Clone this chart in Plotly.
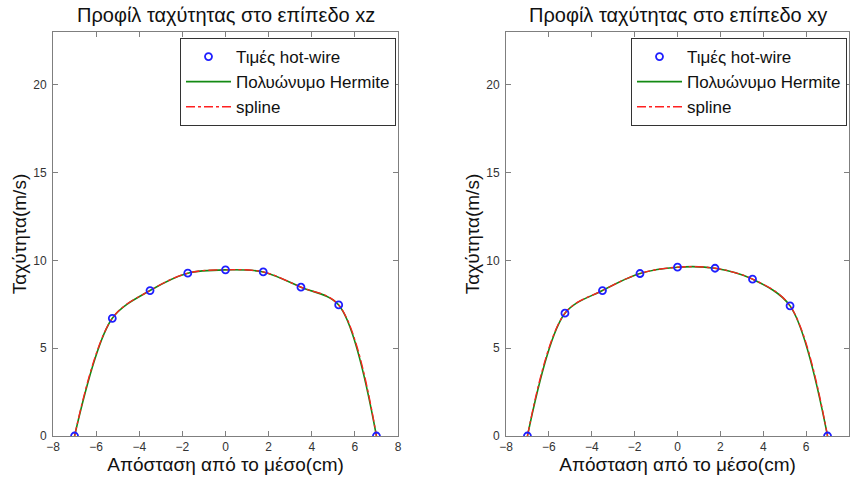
import plotly.graph_objects as go

# Data
positions = [-7, -5.25, -3.5, -1.75, 0, 1.75, 3.5, 5.25, 7]
speed_xz = [0, 6.7, 8.28, 9.27, 9.46, 9.34, 8.47, 7.46, 0]
speed_xy = [0, 6.99, 8.28, 9.25, 9.61, 9.55, 8.93, 7.41, 0]

titles = ["Προφίλ ταχύτητας στο επίπεδο xz", "Προφίλ ταχύτητας στο επίπεδο xy"]
x_label = "Απόσταση από το μέσο(cm)"
y_label = "Ταχύτητα(m/s)"
legend_names = ["Τιμές hot-wire", "Πολυώνυμο Hermite", "spline"]
x_ticks = [-8, -6, -4, -2, 0, 2, 4, 6, 8]
y_ticks = [0, 5, 10, 15, 20]

FONT = "Liberation Sans, Arial, sans-serif"
W, H = 852, 479

fig = go.Figure()

series = [speed_xz, speed_xy]
for i, ys in enumerate(series):
    xa = "x" if i == 0 else "x2"
    ya = "y" if i == 0 else "y2"
    lg = "legend" if i == 0 else "legend2"
    fig.add_trace(go.Scatter(x=positions, y=ys, mode="lines", name=legend_names[1],
                             line=dict(color="#138a13", width=1.6, shape="spline", smoothing=0.9),
                             xaxis=xa, yaxis=ya, legend=lg, legendrank=2))
    fig.add_trace(go.Scatter(x=positions, y=ys, mode="lines", name=legend_names[2],
                             line=dict(color="#ff2020", width=1.3, dash="dashdot", shape="spline", smoothing=1.0),
                             xaxis=xa, yaxis=ya, legend=lg, legendrank=3))
    fig.add_trace(go.Scatter(x=positions, y=ys, mode="markers", name=legend_names[0],
                             marker=dict(symbol="circle-open", color="#1f1fff", size=7, line=dict(width=1.8)),
                             xaxis=xa, yaxis=ya, legend=lg, legendrank=1))

y0 = (H - 436) / H
y1 = (H - 32) / H
doms = [[53 / W, 398 / W], [506 / W, 849 / W]]

axis_common = dict(showline=True, mirror="ticks", linecolor="#7f7f7f", linewidth=1,
                   ticks="inside", ticklen=5, tickcolor="#7f7f7f", showgrid=False, zeroline=False,
                   automargin=False,
                   tickfont=dict(family=FONT, size=12, color="#333333"))

layout = dict(
    width=W, height=H, paper_bgcolor="white", plot_bgcolor="white",
    margin=dict(l=0, r=0, t=0, b=0),
    showlegend=True,
    font=dict(family=FONT, color="#111111"),
)
for i in range(2):
    sfx = "" if i == 0 else "2"
    layout["xaxis" + sfx] = dict(axis_common, domain=doms[i], range=[-8, 8], tickvals=x_ticks,
                                 anchor="y" + sfx, ticklabelstandoff=0,
                                 title=dict(text=x_label, font=dict(family=FONT, size=19, color="#111111"), standoff=0))
    layout["yaxis" + sfx] = dict(axis_common, domain=[y0, y1], range=[0, 23], tickvals=y_ticks,
                                 anchor="x" + sfx, ticklabelstandoff=3,
                                 title=dict(text=y_label, font=dict(family=FONT, size=19, color="#111111"), standoff=1))

legend_common = dict(bgcolor="white", bordercolor="#333333", borderwidth=1,
                     font=dict(family=FONT, size=17, color="#111111"),
                     xanchor="right", yanchor="top", tracegroupgap=0, itemwidth=45)
layout["legend"] = dict(legend_common, x=396 / W, y=1 - 38 / H)
layout["legend2"] = dict(legend_common, x=847 / W, y=1 - 38 / H)

annotations = []
for i, t in enumerate(titles):
    cx = (doms[i][0] + doms[i][1]) / 2
    annotations.append(dict(text=t, x=cx, y=1 - 15 / H, xref="paper", yref="paper",
                            xanchor="center", yanchor="middle", showarrow=False,
                            font=dict(family=FONT, size=20, color="#111111")))
layout["annotations"] = annotations

fig.update_layout(**layout)
fig.write_html("out.html")
